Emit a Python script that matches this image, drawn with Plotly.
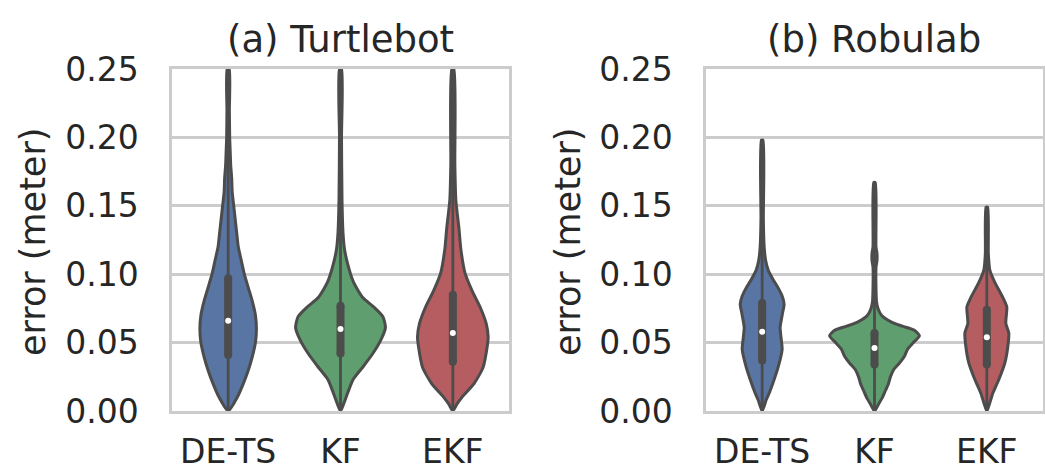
import plotly.graph_objects as go

# ---------------- data ----------------
categories = ["DE-TS", "KF", "EKF"]
panel_titles = ["(a) Turtlebot", "(b) Robulab"]
y_ticks = [0.00, 0.05, 0.10, 0.15, 0.20, 0.25]

# Violin outlines: error levels (m) and relative density
turtle_dets_y = [0, 0.01, 0.02, 0.03, 0.04, 0.05, 0.06, 0.07, 0.08, 0.09, 0.10, 0.11, 0.12, 0.13, 0.14, 0.15, 0.16, 0.17, 0.18, 0.19, 0.20, 0.22, 0.25]
turtle_dets_d = [0, 9, 15, 20, 24, 27, 28, 27, 24, 20, 16, 13, 10, 8.5, 7, 5.5, 4, 3.5, 2.5, 2, 1.5, 1.2, 1]
turtle_kf_y = [0, 0.005, 0.013, 0.023, 0.032, 0.042, 0.052, 0.061, 0.069, 0.076, 0.083, 0.094, 0.105, 0.118, 0.130, 0.154, 0.20, 0.25]
turtle_kf_d = [0, 3, 7, 12.5, 22, 32, 40, 44.5, 42, 33, 22, 13, 8, 4, 2.5, 1.5, 1, 1]
turtle_ekf_y = [0, 0.005, 0.010, 0.020, 0.032, 0.047, 0.054, 0.064, 0.076, 0.088, 0.101, 0.118, 0.134, 0.154, 0.18, 0.25]
turtle_ekf_d = [0, 4, 9, 21, 30, 34, 35, 33, 27, 19, 12, 8, 6, 3, 2, 1]

robu_dets_y = [0, 0.008, 0.013, 0.023, 0.032, 0.045, 0.053, 0.061, 0.072, 0.078, 0.084, 0.090, 0.096, 0.103, 0.110, 0.120, 0.140, 0.198]
robu_dets_d = [0, 4, 7, 12, 16, 20, 19, 18, 20.5, 22, 20, 16, 11, 6, 3.5, 2, 1.2, 0.8]
robu_kf_y = [0, 0.005, 0.010, 0.015, 0.020, 0.025, 0.030, 0.035, 0.040, 0.045, 0.050, 0.055, 0.059, 0.062, 0.065, 0.070, 0.075, 0.080, 0.090, 0.105, 0.110, 0.115, 0.120, 0.167]
robu_kf_d = [0, 4, 8, 11, 14, 16, 19, 25, 30, 33, 39, 45, 40, 28, 17, 7, 3.5, 2, 1.5, 1.5, 2.5, 2.5, 1.5, 0.8]
robu_ekf_y = [0, 0.006, 0.013, 0.023, 0.035, 0.047, 0.057, 0.064, 0.076, 0.083, 0.094, 0.103, 0.115, 0.149]
robu_ekf_d = [0, 3, 6, 12, 18, 21, 22, 19, 20, 16, 8, 3, 1.5, 0.8]

# quartiles (q1, median, q3) and whisker top
turtle_q1 = [0.041, 0.042, 0.036]
turtle_med = [0.066, 0.060, 0.057]
turtle_q3 = [0.097, 0.077, 0.085]
turtle_top = [0.25, 0.25, 0.25]
robu_q1 = [0.037, 0.034, 0.034]
robu_med = [0.058, 0.046, 0.054]
robu_q3 = [0.079, 0.057, 0.074]
robu_top = [0.198, 0.167, 0.149]

# ---------------- styles ----------------
fills = ["#5875a4", "#5f9e6e", "#b55d60"]
gray = "#4c4c4c"
grid = "#cccccc"
txt = "#262626"
FONT = "DejaVu Sans"
W, H = 1045, 474

fig = go.Figure()

panels = [
    (["x", "y"], [(turtle_dets_y, turtle_dets_d), (turtle_kf_y, turtle_kf_d), (turtle_ekf_y, turtle_ekf_d)],
     turtle_q1, turtle_med, turtle_q3, turtle_top),
    (["x2", "y2"], [(robu_dets_y, robu_dets_d), (robu_kf_y, robu_kf_d), (robu_ekf_y, robu_ekf_d)],
     robu_q1, robu_med, robu_q3, robu_top),
]

for (xa, ya), shapes, q1s, meds, q3s, tops in panels:
    dmax = max(max(d) for _, d in shapes)
    for i, (ys, ds) in enumerate(shapes):
        hw = [d / dmax * 0.4 for d in ds]
        xs = [i + h for h in hw] + [i - h for h in reversed(hw)]
        yy = list(ys) + list(reversed(ys))
        fig.add_trace(go.Scatter(x=xs, y=yy, xaxis=xa, yaxis=ya, mode="lines",
                                 fill="toself", fillcolor=fills[i],
                                 line=dict(color=gray, width=3, shape="spline", smoothing=0.6),
                                 hoverinfo="skip", showlegend=False))
        # whisker line
        fig.add_trace(go.Scatter(x=[i, i], y=[0, tops[i]], xaxis=xa, yaxis=ya, mode="lines",
                                 line=dict(color=gray, width=2.8), hoverinfo="skip", showlegend=False))
        # box
        fig.add_trace(go.Scatter(x=[i, i], y=[q1s[i], q3s[i]], xaxis=xa, yaxis=ya, mode="lines+markers",
                                 line=dict(color=gray, width=8),
                                 marker=dict(color=gray, size=8, line=dict(width=0)),
                                 hoverinfo="skip", showlegend=False))
        # median
        fig.add_trace(go.Scatter(x=[i], y=[meds[i]], xaxis=xa, yaxis=ya, mode="markers",
                                 marker=dict(color="white", size=6, line=dict(width=0)),
                                 hoverinfo="skip", showlegend=False))

x_dom1 = [172 / W, 509 / W]
x_dom2 = [706 / W, 1043 / W]
y_dom = [(H - 411) / H, (H - 69) / H]

xcommon = dict(range=[-0.5, 2.5], tickvals=[0, 1, 2], ticktext=categories, showgrid=False,
               zeroline=False, showline=True, mirror=True, linecolor=grid, linewidth=2.5,
               ticks="outside", ticklen=10, tickcolor="rgba(0,0,0,0)", automargin=False,
               tickfont=dict(family=FONT, size=33, color=txt), fixedrange=True)
ycommon = dict(range=[0, 0.25], tickvals=y_ticks, tickformat=".2f", showgrid=True, gridcolor=grid,
               gridwidth=2.5, zeroline=False, showline=True, mirror=True, linecolor=grid, linewidth=2.5,
               ticks="outside", ticklen=24, tickcolor="rgba(0,0,0,0)", automargin=False,
               tickfont=dict(family=FONT, size=33, color=txt), domain=y_dom, fixedrange=True)

fig.update_layout(
    width=W, height=H, margin=dict(l=0, r=0, t=0, b=0, autoexpand=False),
    paper_bgcolor="white", plot_bgcolor="white",
    xaxis=dict(domain=x_dom1, anchor="y", **xcommon),
    yaxis=dict(anchor="x", **ycommon),
    xaxis2=dict(domain=x_dom2, anchor="y2", **xcommon),
    yaxis2=dict(anchor="x2", **ycommon),
)

centers = [(x_dom1[0] + x_dom1[1]) / 2, (x_dom2[0] + x_dom2[1]) / 2]
for c, t in zip(centers, panel_titles):
    fig.add_annotation(x=c, y=1 - 39 / H, xref="paper", yref="paper", text=t, showarrow=False,
                       xanchor="center", yanchor="middle", font=dict(family=FONT, size=37, color=txt))
for xpix in [33, 568]:
    fig.add_annotation(x=xpix / W, y=1 - 242 / H, xref="paper", yref="paper", text="error (meter)",
                       textangle=-90, showarrow=False, xanchor="center", yanchor="middle",
                       font=dict(family=FONT, size=35, color=txt))

fig.write_html("out.html", config={"displayModeBar": False},
               post_script="document.body.style.margin='0';document.body.style.overflow='hidden';")
